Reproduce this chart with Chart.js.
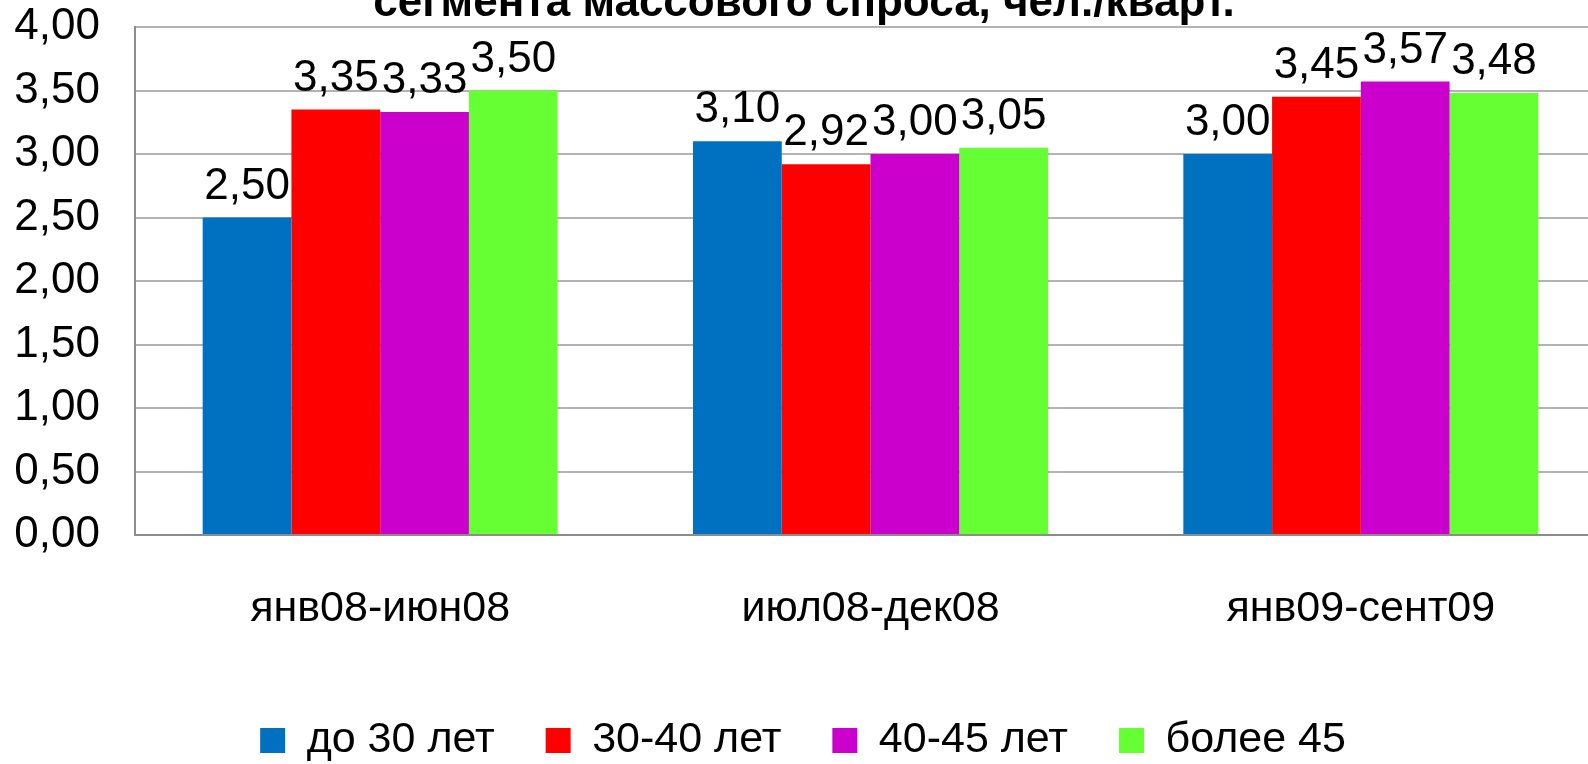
<!DOCTYPE html>
<html>
<head>
<meta charset="utf-8">
<script src="https://cdn.jsdelivr.net/npm/chart.js@4.4.0/dist/chart.umd.min.js"></script>
<style>
  html, body { margin: 0; padding: 0; background: #fff; overflow: hidden; }
  #wrap { position: relative; width: 1588px; height: 764px; overflow: hidden; }
  #barChart { position: absolute; left: 0; top: 0; }
</style>
</head>
<body>
<div id="wrap"><canvas id="barChart" width="1608" height="772"></canvas></div>
<script>
// периоды и значения по возрастным группам
var periods = ['янв08-июн08', 'июл08-дек08', 'янв09-сент09'];
var under30 = [2.50, 3.10, 3.00];
var age30to40 = [3.35, 2.92, 3.45];
var age40to45 = [3.33, 3.00, 3.57];
var over45 = [3.50, 3.05, 3.48];
var seriesNames = ['до 30 лет', '30-40 лет', '40-45 лет', 'более 45'];
var seriesColors = ['#0070c0', '#ff0000', '#cc00cc', '#66ff33'];
var yTicks = [0, 0.5, 1, 1.5, 2, 2.5, 3, 3.5, 4];
var chartTitle = 'сегмента массового спроса, чел./кварт.';

Chart.defaults.font.family = "'Liberation Sans', Arial, sans-serif";
Chart.defaults.color = '#000';

function fmt(v) {
    return v.toFixed(2).replace('.', ',');
}

// заголовок рисуем сами, чтобы он стоял над областью графика
var titlePlugin = {
    id: 'topTitle',
    afterDraw: function (chart) {
        var ctx = chart.ctx;
        ctx.save();
        ctx.font = "bold 44px 'Liberation Sans', Arial, sans-serif";
        ctx.fillStyle = '#000';
        ctx.textAlign = 'center';
        ctx.textBaseline = 'alphabetic';
        ctx.fillText(chartTitle, chart.width / 2, 16);
        ctx.restore();
    }
};

// подписи значений над столбцами
var valueLabels = {
    id: 'valueLabels',
    afterDatasetsDraw: function (chart) {
        var ctx = chart.ctx;
        ctx.save();
        ctx.font = "44px 'Liberation Sans', Arial, sans-serif";
        ctx.fillStyle = '#000';
        ctx.textAlign = 'center';
        ctx.textBaseline = 'alphabetic';
        chart.data.datasets.forEach(function (ds, i) {
            var meta = chart.getDatasetMeta(i);
            meta.data.forEach(function (bar, j) {
                ctx.fillText(fmt(ds.data[j]), bar.x, bar.y - 19);
            });
        });
        ctx.restore();
    }
};

var allSeries = [under30, age30to40, age40to45, over45];
var datasets = allSeries.map(function (values, i) {
    return {
        label: seriesNames[i],
        data: values,
        backgroundColor: seriesColors[i],
        borderWidth: 0
    };
});

var ctx = document.getElementById('barChart').getContext('2d');
var barChart = new Chart(ctx, {
    type: 'bar',
    data: { labels: periods, datasets: datasets },
    options: {
        responsive: false,
        devicePixelRatio: 1,
        animation: false,
        categoryPercentage: 0.724,
        barPercentage: 1,
        layout: { padding: { top: 27, right: 2, left: 0, bottom: 0 } },
        plugins: {
            title: { display: false },
            tooltip: { enabled: false },
            legend: {
                position: 'bottom',
                labels: {
                    font: { size: 43 },
                    color: '#000',
                    boxWidth: 25,
                    boxHeight: 25,
                    padding: 51
                }
            }
        },
        scales: {
            x: {
                grid: { display: true, drawOnChartArea: false, drawTicks: false },
                border: { color: '#8c8c8c', width: 2 },
                ticks: { font: { size: 43 }, color: '#000', padding: 48 },
                afterFit: function (scale) { scale.height = 133; }
            },
            y: {
                min: 0,
                max: 4,
                afterBuildTicks: function (scale) {
                    scale.ticks = yTicks.map(function (v) { return { value: v }; });
                },
                grid: { color: '#b3b3b3', lineWidth: 2, drawTicks: false },
                border: { color: '#8c8c8c', width: 2 },
                ticks: {
                    font: { size: 44 },
                    color: '#000',
                    padding: 35,
                    callback: function (v) { return fmt(v); }
                },
                afterFit: function (scale) {
                    scale.width = 135;
                    scale.paddingTop = 20;
                    scale.paddingBottom = 0;
                }
            }
        }
    },
    plugins: [titlePlugin, valueLabels]
});
</script>
</body>
</html>
